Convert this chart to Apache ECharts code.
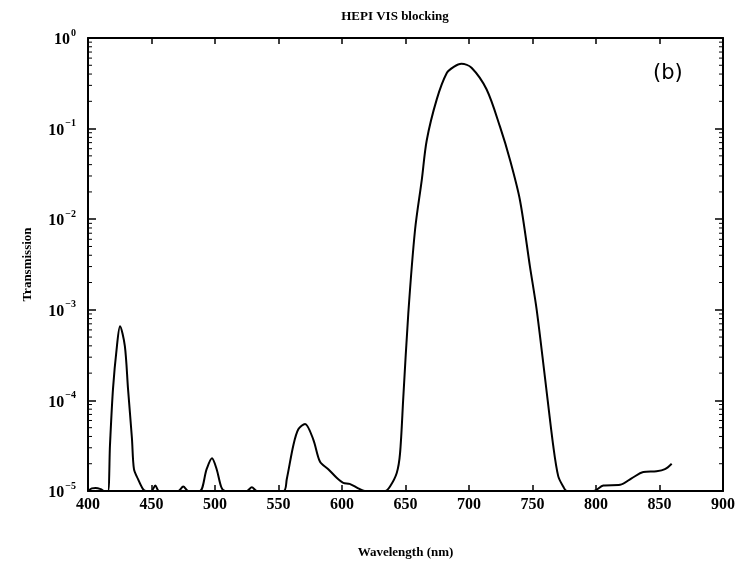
<!DOCTYPE html>
<html>
<head>
<meta charset="utf-8">
<script src="https://cdn.jsdelivr.net/npm/echarts@6/dist/echarts.min.js"></script>
<style>
  html, body { margin: 0; padding: 0; background: #fff; }
  #chart { width: 744px; height: 561px; }
</style>
</head>
<body>
<div id="chart"></div>
<script>
  /******************/
  //region    //data

  // wavelength (nm)
  let wavelength = [
    400, 403, 406, 410, 413, 415.7, 417.3, 419.7, 422.8, 425.2, 429, 431.5, 434.6, 436.2, 439.4, 443.3, 446,
    450, 453, 456, 471, 475, 479, 488, 493.4, 497.6, 501.3, 505, 508, 525, 529, 533,
    554, 556.5, 561.7, 565.6, 570.9, 577.4, 582.7, 589.2, 595.8, 601, 606, 612.8, 618,
    634, 637.8, 643.1, 645.7, 648.3, 652.2, 657.5, 662.8, 666.7, 674.6, 682.5, 688, 694, 702, 713.9,
    724.4, 732.3, 740.2, 748, 753.3, 759.8, 766.4, 770.3, 774.2, 777,
    798, 805.8, 819, 828, 837.3, 847.7, 854.3, 859.6
  ];

  // transmission
  let transmission = [
    1.0e-5, 1.07e-5, 1.08e-5, 1.05e-5, 1.0e-5, 1.0e-5, 3.2e-5, 1.35e-4, 4.0e-4, 6.6e-4, 4.0e-4, 1.35e-4, 3.8e-5, 1.74e-5, 1.35e-5, 1.05e-5, 1.0e-5,
    1.0e-5, 1.15e-5, 1.0e-5, 1.0e-5, 1.12e-5, 1.0e-5, 1.0e-5, 1.74e-5, 2.3e-5, 1.74e-5, 1.1e-5, 1.0e-5, 1.0e-5, 1.1e-5, 1.0e-5,
    1.0e-5, 1.35e-5, 3.2e-5, 4.8e-5, 5.5e-5, 3.7e-5, 2.1e-5, 1.74e-5, 1.4e-5, 1.23e-5, 1.2e-5, 1.07e-5, 1.0e-5,
    1.0e-5, 1.12e-5, 1.58e-5, 2.6e-5, 1.1e-4, 9.1e-4, 7.6e-3, 0.027, 0.074, 0.21, 0.41, 0.48, 0.52, 0.47, 0.27,
    0.105, 0.045, 0.016, 3.0e-3, 1.0e-3, 1.8e-4, 3.1e-5, 1.45e-5, 1.12e-5, 1.0e-5,
    1.0e-5, 1.15e-5, 1.17e-5, 1.38e-5, 1.62e-5, 1.65e-5, 1.74e-5, 2.0e-5
  ];

  // y tick labels (exponents of ten)
  let yTickExponents = ['0', '\u22121', '\u22122', '\u22123', '\u22124', '\u22125'];

  // minor tick positions on the log axis
  let decades = [1e-5, 1e-4, 1e-3, 1e-2, 1e-1];
  let multiples = [2, 3, 4, 5, 6, 7, 8, 9];

  //endregion

  /******************/
  //region    //chart

  let chart = echarts.init(document.getElementById('chart'));

  let lineData = wavelength.map((w, i) => [w, transmission[i]]);
  let minorData = [];
  decades.forEach(d => multiples.forEach(m => minorData.push([400, d * m])));

  let serif = 'Liberation Serif';

  function renderMinor(params, api) {
    let cs = params.coordSys;
    let y = api.coord([400, api.value(1)])[1];
    let style = { stroke: '#000', lineWidth: 1 };
    return {
      type: 'group',
      children: [
        { type: 'line', shape: { x1: cs.x, y1: y, x2: cs.x + 4, y2: y }, style },
        { type: 'line', shape: { x1: cs.x + cs.width - 4, y1: y, x2: cs.x + cs.width, y2: y }, style },
      ]
    };
  }

  let xBase = {
    type: 'value', min: 400, max: 900, interval: 50,
    axisLine: { show: true, onZero: false, lineStyle: { color: '#000', width: 2 } },
    axisTick: { show: true, inside: true, length: 6, lineStyle: { color: '#000', width: 1.5 } },
    splitLine: { show: false },
  };
  let yBase = {
    type: 'log', logBase: 10, min: 1e-5, max: 1,
    axisLine: { show: true, lineStyle: { color: '#000', width: 2 } },
    axisTick: { show: true, inside: true, length: 8, lineStyle: { color: '#000', width: 1.5 } },
    splitLine: { show: false },
  };

  let option = {
    backgroundColor: '#fff',
    animation: false,
    title: [
      {
        text: 'HEPI VIS blocking', left: 390, top: 5, textAlign: 'center',
        textStyle: { fontFamily: serif, fontWeight: 'bold', fontSize: 13, color: '#000' }
      },
      {
        text: '(b)', left: 648, top: 58,
        textStyle: { fontFamily: 'DejaVu Sans', fontWeight: 'normal', fontSize: 21, color: '#000' }
      },
    ],
    grid: { left: 88, right: 21, top: 38, bottom: 70, outerBoundsMode: 'none', containLabel: false },
    xAxis: [
      Object.assign({}, xBase, {
        position: 'bottom',
        name: 'Wavelength (nm)', nameLocation: 'middle', nameGap: 55,
        nameTextStyle: { fontFamily: serif, fontWeight: 'bold', fontSize: 13, color: '#000' },
        axisLabel: { margin: 6, fontFamily: serif, fontWeight: 'bold', fontSize: 16, color: '#000' },
      }),
      Object.assign({}, xBase, { position: 'top', axisLabel: { show: false } }),
    ],
    yAxis: [
      Object.assign({}, yBase, {
        position: 'left',
        name: 'Transmission', nameLocation: 'middle', nameGap: 54,
        nameTextStyle: { fontFamily: serif, fontWeight: 'bold', fontSize: 13, color: '#000' },
        axisLabel: {
          margin: 12,
          formatter(v) {
            let i = Math.round(-Math.log10(v));
            return '{b|10}{s|' + yTickExponents[i] + '}';
          },
          rich: {
            b: { fontFamily: serif, fontWeight: 'bold', fontSize: 16, color: '#000', lineHeight: 20, verticalAlign: 'bottom' },
            s: { fontFamily: serif, fontWeight: 'bold', fontSize: 10, color: '#000', lineHeight: 20, verticalAlign: 'top', padding: [0, 0, 0, 1] },
          }
        },
      }),
      Object.assign({}, yBase, { position: 'right', axisLabel: { show: false } }),
    ],
    series: [
      {
        type: 'line', xAxisIndex: 0, yAxisIndex: 0,
        data: lineData,
        showSymbol: false, symbol: 'none',
        smooth: 0.3,
        lineStyle: { color: '#000', width: 2 },
        z: 5,
      },
      {
        type: 'custom', xAxisIndex: 0, yAxisIndex: 0,
        data: minorData,
        renderItem: renderMinor,
        silent: true, clip: false,
      },
    ],
  };

  chart.setOption(option);

  //endregion
</script>
</body>
</html>
